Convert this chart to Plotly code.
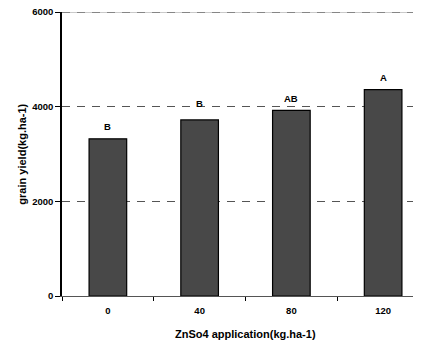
import plotly.graph_objects as go

categories = ["0", "40", "80", "120"]
grain_yield = [3320, 3720, 3920, 4360]
letters = ["B", "B", "AB", "A"]
letter_shift = [12, 16, 12, 12]

FONT = "Arial, Liberation Sans, sans-serif"

fig = go.Figure()
fig.add_trace(go.Bar(
    x=categories, y=grain_yield, width=0.41,
    marker=dict(color="#444444", line=dict(color="#000000", width=1.2),
                pattern=dict(shape="|", size=2, solidity=0.3, fgcolor="#383838", bgcolor="#4a4a4a")),
    showlegend=False,
))

for i, (v, t, s) in enumerate(zip(grain_yield, letters, letter_shift)):
    fig.add_annotation(x=i, y=v, text="<b>%s</b>" % t, showarrow=False,
                       yanchor="middle", yshift=s, font=dict(size=9.5, color="#000", family=FONT))

fig.add_annotation(x=1.5, xref="x", y=-0.135, yref="paper", yanchor="middle",
                   text="<b>ZnSo4 application(kg.ha-1)</b>", showarrow=False,
                   font=dict(size=11, color="#000", family=FONT))
fig.add_annotation(x=-0.11, xref="paper", xanchor="center", y=0.5, yref="paper",
                   text="<b>grain yield(kg.ha-1)</b>", textangle=-90, showarrow=False,
                   font=dict(size=11, color="#000", family=FONT))

# top border line at 6000 (light solid with darker dashes)
fig.add_shape(type="line", xref="paper", x0=0, x1=1, yref="y", y0=6000, y1=6000,
              line=dict(color="#b8b8b8", width=1.5), layer="below")
fig.add_shape(type="line", xref="paper", x0=0, x1=1, yref="y", y0=6000, y1=6000,
              line=dict(color="#707070", width=1.5, dash="8px,7px"), layer="below")

fig.update_layout(
    width=421, height=336,
    margin=dict(l=54, r=0, t=4, b=48, autoexpand=False),
    paper_bgcolor="white", plot_bgcolor="white",
    font=dict(family=FONT, color="#000"),
)
fig.update_xaxes(
    type="category", range=[-0.5, 3.5], tickson="boundaries",
    ticks="outside", ticklen=4, tickcolor="#000",
    showline=True, linecolor="#555555", linewidth=1.2,
    showgrid=False, automargin=False, ticklabelstandoff=5,
    tickfont=dict(size=9.5, family=FONT, color="#000"),
    tickprefix="<b>", ticksuffix="</b>",
)
fig.update_yaxes(
    range=[0, 6000], dtick=2000, ticks="outside", ticklen=5, tickcolor="#000",
    showline=True, linecolor="#000", linewidth=1.5,
    showgrid=True, gridcolor="#555555", griddash="8px,7px", gridwidth=1,
    zeroline=False, automargin=False, ticklabeloverflow="allow",
    tickfont=dict(size=9.5, family=FONT, color="#000"),
    tickprefix="<b>", ticksuffix="</b>",
)

fig.write_html("out.html")
